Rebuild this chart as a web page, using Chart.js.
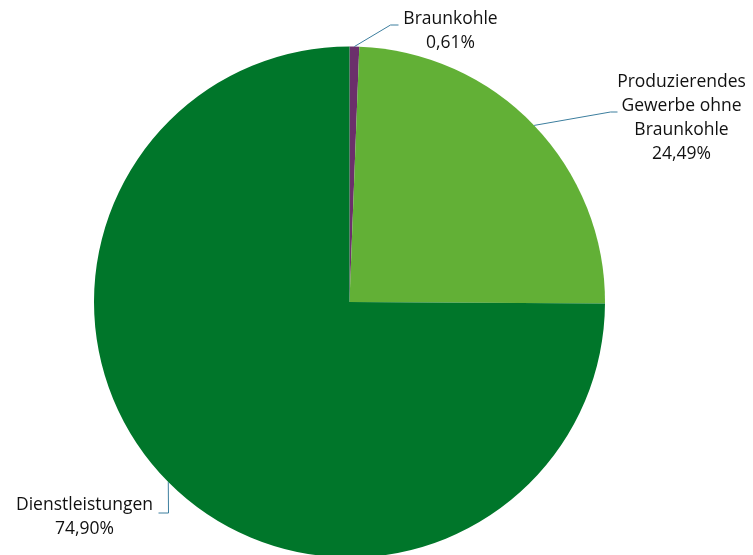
<!DOCTYPE html>
<html>
<head>
<meta charset="utf-8">
<script src="https://cdn.jsdelivr.net/npm/chart.js@4"></script>
<style>
  html, body { margin: 0; padding: 0; background: #fff; overflow: hidden; }
  #wrap { width: 753px; height: 600px; }
</style>
</head>
<body>
<div id="wrap"><canvas id="pie"></canvas></div>
<script>
// Anteile je Sektor (in %)
const labels = ['Braunkohle', 'Produzierendes Gewerbe ohne Braunkohle', 'Dienstleistungen'];
const labelLines = [['Braunkohle'], ['Produzierendes', 'Gewerbe ohne', 'Braunkohle'], ['Dienstleistungen']];
const values = [0.61, 24.49, 74.90];
const colors = ['#6B2F6B', '#62B036', '#00762A'];

const FONT = '17.5px "Open Sans", "Noto Sans", sans-serif';
const LINE_H = 24;

// label placement relative to the pie centre: elbow of leader, text anchor
const CALLOUTS = [
  { elbow: [41, -277], end: [49, -277], text: [101, -283] },
  { elbow: [261, -190], end: [268, -190], text: [332, -220] },
  { elbow: [-181, 211], end: [-191, 211], text: [-265, 203] },
];

const fmt = v => v.toFixed(2).replace('.', ',') + '%';

const calloutPlugin = {
  id: 'callouts',
  afterDatasetsDraw(chart) {
    const ctx = chart.ctx;
    const meta = chart.getDatasetMeta(0);
    ctx.save();
    meta.data.forEach((arc, i) => {
      const c = CALLOUTS[i];
      const mid = (arc.startAngle + arc.endAngle) / 2;
      const sx = arc.x + Math.cos(mid) * arc.outerRadius;
      const sy = arc.y + Math.sin(mid) * arc.outerRadius;
      ctx.strokeStyle = '#3C7E9E';
      ctx.lineWidth = 1;
      ctx.beginPath();
      ctx.moveTo(sx, sy);
      ctx.lineTo(arc.x + c.elbow[0], arc.y + c.elbow[1]);
      ctx.lineTo(arc.x + c.end[0], arc.y + c.end[1]);
      ctx.stroke();

      const lines = labelLines[i].concat([fmt(values[i])]);
      ctx.fillStyle = '#111';
      ctx.font = FONT;
      ctx.textAlign = 'center';
      ctx.textBaseline = 'middle';
      lines.forEach((t, k) => {
        ctx.fillText(t, arc.x + c.text[0], arc.y + c.text[1] + k * LINE_H);
      });
    });
    ctx.restore();
  }
};

new Chart(document.getElementById('pie'), {
  type: 'pie',
  data: {
    labels: labels,
    datasets: [{
      data: values,
      backgroundColor: colors,
      borderWidth: 0,
    }],
  },
  options: {
    responsive: true,
    maintainAspectRatio: false,
    animation: false,
    layout: { padding: { left: 94, right: 148, top: 46, bottom: 42 } },
    plugins: {
      legend: { display: false },
      tooltip: { enabled: false },
    },
  },
  plugins: [calloutPlugin],
});
</script>
</body>
</html>
